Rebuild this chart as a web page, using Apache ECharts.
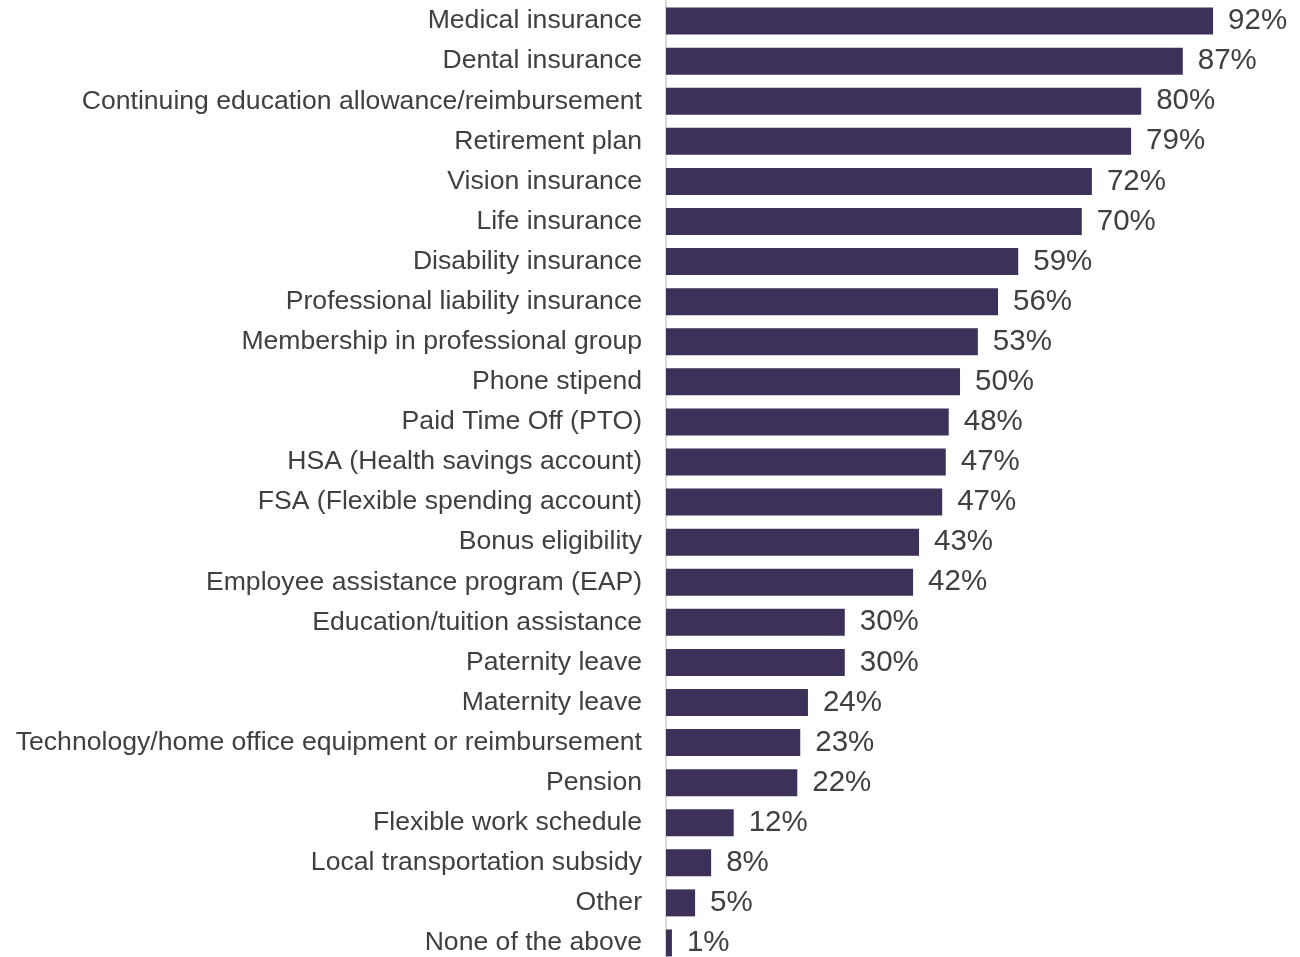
<!DOCTYPE html>
<html>
<head>
<meta charset="utf-8">
<script src="https://cdn.jsdelivr.net/npm/echarts@6/dist/echarts.min.js"></script>
<style>html,body{margin:0;padding:0;background:#fff}#c{width:1300px;height:957px}</style>
</head>
<body>
<div id="c"></div>
<script>
var categories = ["Medical insurance","Dental insurance","Continuing education allowance/reimbursement","Retirement plan","Vision insurance","Life insurance","Disability insurance","Professional liability insurance","Membership in professional group","Phone stipend","Paid Time Off (PTO)","HSA (Health savings account)","FSA (Flexible spending account)","Bonus eligibility","Employee assistance program (EAP)","Education/tuition assistance","Paternity leave","Maternity leave","Technology/home office equipment or reimbursement","Pension","Flexible work schedule","Local transportation subsidy","Other","None of the above"];
// bar lengths
var values = [92.1,87.0,80.0,78.3,71.7,70.0,59.3,55.9,52.5,49.5,47.6,47.1,46.5,42.6,41.6,30.1,30.1,23.9,22.6,22.1,11.4,7.6,4.9,1.0];
// value labels as printed
var valueLabels = ["92%","87%","80%","79%","72%","70%","59%","56%","53%","50%","48%","47%","47%","43%","42%","30%","30%","24%","23%","22%","12%","8%","5%","1%"];

var chart = echarts.init(document.getElementById('c'));
chart.setOption({
  animation: false,
  grid: {left: 666, top: 1, width: 594, height: 962, containLabel: false, outerBoundsMode: 'none'},
  xAxis: {type: 'value', min: 0, max: 100, show: false},
  yAxis: {
    type: 'category', data: categories, inverse: true,
    axisLine: {show: true, lineStyle: {color: '#d9d9d9', width: 2}},
    axisTick: {show: false},
    axisLabel: {fontFamily: 'Liberation Sans, Arial, sans-serif', fontSize: 26.6, color: '#404040', margin: 24, padding: [4, 0, 0, 0]}
  },
  series: [{
    type: 'bar', data: values, barWidth: 27,
    itemStyle: {color: '#3d3159'},
    label: {show: true, position: 'right', distance: 15, padding: [5, 0, 0, 0],
      formatter: function (p) { return valueLabels[p.dataIndex]; },
      fontFamily: 'Liberation Sans, Arial, sans-serif', fontSize: 29.5, color: '#404040'}
  }]
});
</script>
</body>
</html>
